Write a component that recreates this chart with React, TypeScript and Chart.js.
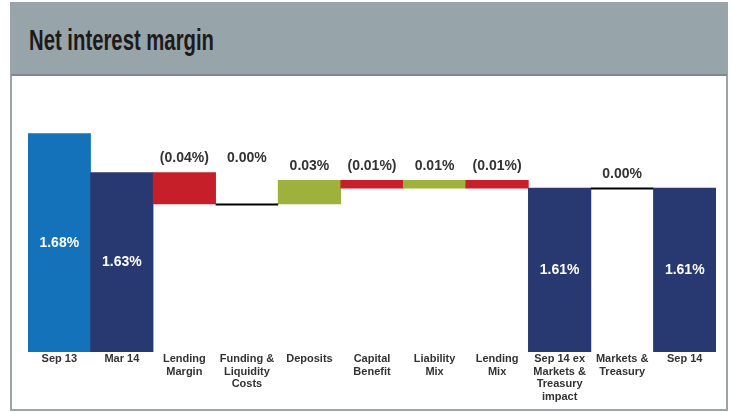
import React, { useEffect, useRef } from "react";
import { Chart, registerables } from "chart.js";

Chart.register(...registerables);

const categories: string[][] = [
  ["Sep 13"],
  ["Mar 14"],
  ["Lending", "Margin"],
  ["Funding &", "Liquidity", "Costs"],
  ["Deposits"],
  ["Capital", "Benefit"],
  ["Liability", "Mix"],
  ["Lending", "Mix"],
  ["Sep 14 ex", "Markets &", "Treasury", "impact"],
  ["Markets &", "Treasury"],
  ["Sep 14"],
];
// "total" bars stand on the axis; "delta" bars float from the running total
const kinds = ["total", "total", "delta", "delta", "delta", "delta", "delta", "delta", "total", "delta", "total"];
const values = [1.68, 1.63, -0.04, 0.0, 0.03, -0.01, 0.01, -0.01, 1.61, 0.0, 1.61];
const yMin = 1.4;
const yMax = 1.75;

const TOTAL_BLUE = "#1372b9";
const NAVY = "#283870";
const RED = "#c71f29";
const GREEN = "#9db13c";

function fmt(v: number): string {
  const s = Math.abs(v).toFixed(2) + "%";
  return v < -1e-9 ? "(" + s + ")" : s;
}

export default function App() {
  const ref = useRef<HTMLCanvasElement | null>(null);

  useEffect(() => {
    if (!ref.current) return;
    let running = 0;
    const ranges: [number, number][] = [];
    const colors: string[] = [];
    values.forEach((v, i) => {
      if (kinds[i] === "total") {
        ranges.push([yMin, v]);
        running = v;
        colors.push(i === 0 ? TOTAL_BLUE : NAVY);
      } else {
        const start = running;
        running = running + v;
        ranges.push([start, running]);
        colors.push(v < 0 ? RED : v > 0 ? GREEN : "rgba(0,0,0,0)");
      }
    });

    const labelPlugin = {
      id: "wfLabels",
      afterDatasetsDraw(chart: any) {
        const ctx = chart.ctx;
        const meta = chart.getDatasetMeta(0);
        const ys = chart.scales.y;
        const area = chart.chartArea;
        ctx.save();
        meta.data.forEach((bar: any, i: number) => {
          const [a] = ranges[i];
          const half = bar.width / 2;
          if (kinds[i] === "delta" && Math.abs(values[i]) < 1e-9) {
            ctx.strokeStyle = "#000";
            ctx.lineWidth = 2;
            ctx.beginPath();
            const py = Math.round(ys.getPixelForValue(a)) + 0.5;
            ctx.moveTo(bar.x - half, py);
            ctx.lineTo(bar.x + half, py);
            ctx.stroke();
          }
        });
        ctx.font = "bold 14px 'Liberation Sans', Arial, sans-serif";
        ctx.textAlign = "center";
        ctx.textBaseline = "middle";
        meta.data.forEach((bar: any, i: number) => {
          const [a, b] = ranges[i];
          if (kinds[i] === "total") {
            const top = ys.getPixelForValue(b);
            ctx.fillStyle = "#ffffff";
            ctx.fillText(fmt(values[i]), bar.x, (top + area.bottom) / 2);
          } else {
            const top = ys.getPixelForValue(Math.max(a, b));
            const pr = ranges[i - 1];
            const prevTop = ys.getPixelForValue(Math.max(pr[0], pr[1]));
            ctx.fillStyle = "#333333";
            ctx.fillText(fmt(values[i]), bar.x, Math.min(top, prevTop) - 14);
          }
        });
        ctx.restore();
      },
    };

    const chart = new Chart(ref.current, {
      type: "bar",
      data: {
        labels: categories,
        datasets: [
          {
            data: ranges as any,
            backgroundColor: colors,
            borderWidth: 0,
            barPercentage: 1,
            categoryPercentage: 1,
          },
        ],
      },
      options: {
        animation: false,
        responsive: false,
        maintainAspectRatio: false,
        layout: { padding: { left: 18, right: 10, top: 3, bottom: 0 } },
        plugins: { legend: { display: false }, tooltip: { enabled: false } },
        scales: {
          x: {
            grid: { display: false, drawTicks: false },
            border: { display: false },
            ticks: {
              padding: 1,
              maxRotation: 0,
              autoSkip: false,
              color: "#333333",
              font: { family: "'Liberation Sans', Arial, sans-serif", size: 11, weight: "bold", lineHeight: 1.14 },
            },
            afterFit(scale: any) {
              scale.height = 57;
            },
          },
          y: {
            display: false,
            min: yMin,
            max: yMax,
          },
        },
      },
      plugins: [labelPlugin],
    });
    return () => chart.destroy();
  }, []);

  return (
    <div
      style={{
        position: "fixed",
        left: 0,
        top: 0,
        width: 732,
        height: 412,
        overflow: "hidden",
        background: "#ffffff",
        fontFamily: "'Liberation Sans', Arial, sans-serif",
      }}
    >
      <div
        style={{
          position: "absolute",
          left: 10,
          top: 2,
          width: 714,
          height: 405,
          border: "2px solid #9aa4a9",
          background: "#ffffff",
        }}
      />
      <div
        style={{
          position: "absolute",
          left: 11,
          top: 3,
          width: 716,
          height: 71,
          background: "#97a4a9",
          borderBottom: "2px solid #7e8a8f",
        }}
      >
        <div
          style={{
            position: "absolute",
            left: 18,
            top: 20,
            fontFamily: "'Liberation Sans', Arial, sans-serif",
            fontWeight: "bold",
            fontSize: 29,
            lineHeight: "34px",
            color: "#1e1a1a",
            whiteSpace: "nowrap",
            transform: "scaleX(0.7)",
            transformOrigin: "left center",
          }}
        >
          Net interest margin
        </div>
      </div>
      <canvas
        ref={ref}
        width={716}
        height={333}
        style={{ position: "absolute", left: 10, top: 76, width: 716, height: 333 }}
      />
    </div>
  );
}
